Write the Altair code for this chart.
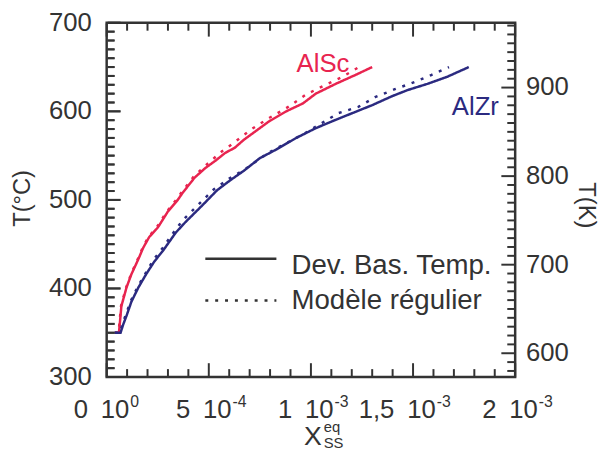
import altair as alt
import pandas as pd

# ---------------- data ----------------
sc_solid_x = [4.0e-5, 6.0e-5, 6.5e-5, 7.2e-5, 9.7e-5, 1.21e-4, 1.55e-4, 1.79e-4, 2.08e-4, 2.51e-4,
              3.00e-4, 3.48e-4, 3.72e-4, 4.30e-4, 4.83e-4, 5.31e-4, 5.80e-4, 6.28e-4, 6.72e-4, 7.20e-4,
              7.97e-4, 8.79e-4, 9.61e-4, 1.024e-3, 1.121e-3, 1.217e-3, 1.30e-3]
sc_solid_t = [350, 350, 362, 380, 401, 416, 433, 446, 458, 469,
              487, 500, 508, 525, 536, 544, 553, 559, 568, 576,
              589, 600, 609, 620, 631, 641, 650]

sc_dot_x = [4.0e-5, 5.8e-5, 6.3e-5, 7.0e-5, 9.5e-5, 1.19e-4, 1.52e-4, 1.76e-4, 2.04e-4, 2.45e-4,
            2.95e-4, 3.40e-4, 3.65e-4, 4.25e-4, 4.75e-4, 5.20e-4, 5.65e-4, 6.14e-4, 7.10e-4, 7.92e-4,
            8.89e-4, 9.76e-4, 1.072e-3, 1.155e-3, 1.235e-3]
sc_dot_t = [350, 350, 362, 380, 401, 416, 433, 446, 458, 469,
            487, 500, 508, 526, 537, 546, 555, 563, 580, 592,
            605, 619, 630, 639, 650]

zr_solid_x = [3.9e-5, 6.8e-5, 8.2e-5, 9.7e-5, 1.21e-4, 1.55e-4, 1.93e-4, 2.32e-4, 2.80e-4, 3.38e-4,
              3.86e-4, 4.69e-4, 5.41e-4, 6.04e-4, 6.72e-4, 7.49e-4, 8.31e-4, 9.28e-4, 1.024e-3, 1.106e-3,
              1.203e-3, 1.30e-3, 1.396e-3, 1.473e-3, 1.57e-3, 1.667e-3, 1.773e-3]
zr_solid_t = [350, 350, 360, 369, 385, 401, 416, 430, 444, 463,
              475, 494, 511, 522, 533, 547, 557, 570, 581, 589,
              598, 607, 617, 624, 631, 639, 650]

zr_dot_x = [3.9e-5, 6.5e-5, 8.0e-5, 9.5e-5, 1.18e-4, 1.52e-4, 1.90e-4, 2.28e-4, 2.75e-4, 3.30e-4,
            3.72e-4, 4.55e-4, 5.25e-4, 6.00e-4, 6.86e-4, 7.83e-4, 8.70e-4, 9.61e-4, 1.048e-3, 1.135e-3,
            1.232e-3, 1.314e-3, 1.411e-3, 1.507e-3, 1.589e-3, 1.676e-3]
zr_dot_t = [350, 350, 362, 371, 386, 402, 417, 432, 446, 464,
            477, 496, 512, 524, 536, 552, 563, 574, 586, 598,
            605, 616, 625, 633, 641, 650]

x_major = [0, 5e-4, 1e-3, 1.5e-3, 2e-3]
x_major_base = ["0\u200210", "5\u200210", "1\u200210", "1,5\u200210", "2\u200210"]
x_major_exp = ["0", "-4", "-3", "-3", "-3"]
x_minor = [i * 1e-4 for i in range(21) if i % 5 != 0]

y_major = [300, 400, 500, 600, 700]
y_minor = [v for v in range(310, 700, 10) if v % 100 != 0]

k_major = [600, 700, 800, 900]
k_minor = [v for v in range(580, 980, 10) if v % 100 != 0]

RED = "#e8244f"
NAVY = "#2b2a80"
INK = "#333333"
FONT = "Liberation Sans"
W, H = 414, 359
MAJ, MIN = 14, 8

rows = []
for name, style, xs, ts in [("AlSc", "solid", sc_solid_x, sc_solid_t),
                            ("AlSc", "dotted", sc_dot_x, sc_dot_t),
                            ("AlZr", "solid", zr_solid_x, zr_solid_t),
                            ("AlZr", "dotted", zr_dot_x, zr_dot_t)]:
    for i, (xv, tv) in enumerate(zip(xs, ts)):
        rows.append({"X": xv, "T": tv, "series": name, "style": style, "i": i})
df = pd.DataFrame(rows)

xscale = alt.Scale(domain=[0, 0.002], nice=False, zero=False)
yscale = alt.Scale(domain=[300, 700], nice=False, zero=False)

lines = alt.Chart(df).mark_line(strokeWidth=2.5).encode(
    x=alt.X("X:Q", scale=xscale, axis=None),
    y=alt.Y("T:Q", scale=yscale, axis=None),
    color=alt.Color("series:N", scale=alt.Scale(domain=["AlSc", "AlZr"], range=[RED, NAVY]), legend=None),
    strokeDash=alt.StrokeDash("style:N", scale=alt.Scale(domain=["solid", "dotted"], range=[[1, 0], [3, 7]]),
                              legend=None),
    order=alt.Order("i:Q"),
)

# --- inward ticks on all four sides of the frame ---
def xticks(vals, length, top):
    d = pd.DataFrame({"X": vals})
    if top:
        enc = dict(y=alt.value(0.5), y2=alt.value(length))
    else:
        enc = dict(y=alt.value(H), y2=alt.value(H - length))
    return alt.Chart(d).mark_rule(color=INK, strokeWidth=2).encode(
        x=alt.X("X:Q", scale=xscale, axis=None), **enc)

k_major_c = [k - 273.15 for k in k_major]
k_minor_c = [k - 273.15 for k in k_minor]

yt_rows = []
for v in y_major:
    yt_rows.append({"Tv": float(v), "p1": 1.0, "p2": float(MAJ)})
for v in y_minor:
    yt_rows.append({"Tv": float(v), "p1": 1.0, "p2": float(MIN)})
for v in k_major_c:
    yt_rows.append({"Tv": v, "p1": float(W), "p2": float(W - MAJ)})
for v in k_minor_c:
    yt_rows.append({"Tv": v, "p1": float(W), "p2": float(W - MIN)})
yt_df = pd.DataFrame(yt_rows)
yticks = alt.Chart(yt_df).mark_rule(color=INK, strokeWidth=2).encode(
    y=alt.Y("Tv:Q", scale=yscale, axis=None),
    x=alt.X("p1:Q", scale=None, axis=None), x2="p2:Q")

# left ticks also drawn as thin rectangles (a second, independent way)
lt_rows = []
for v in y_major:
    lt_rows.append({"Tl": float(v), "w": float(MAJ)})
for v in y_minor:
    lt_rows.append({"Tl": float(v), "w": float(MIN)})
lt_df = pd.DataFrame(lt_rows)
left_rects = alt.Chart(lt_df).transform_calculate(
    lo="datum.Tl - 1.1", hi="datum.Tl + 1.1", x0="1", x1="datum.w"
).mark_rect(color=INK).encode(
    y=alt.Y("lo:Q", scale=yscale, axis=None), y2="hi:Q",
    x=alt.X("x0:Q", scale=None, axis=None), x2="x1:Q")

ticks = [xticks(x_major, MAJ, False), xticks(x_minor, MIN, False),
         xticks(x_major, MAJ, True), xticks(x_minor, MIN, True), yticks, left_rects]

xlab_df = pd.DataFrame({"X": x_major, "base": x_major_base, "exp": x_major_exp})
xlab_base = alt.Chart(xlab_df).mark_text(align="right", baseline="alphabetic", dx=23,
                                         font=FONT, fontSize=26, color=INK).encode(
    x=alt.X("X:Q", scale=xscale, axis=None), y=alt.value(H + 42), text="base:N")
xlab_exp = alt.Chart(xlab_df).mark_text(align="left", baseline="alphabetic", dx=24,
                                        font=FONT, fontSize=16, color=INK).encode(
    x=alt.X("X:Q", scale=xscale, axis=None), y=alt.value(H + 30), text="exp:N")

ylab_df = pd.DataFrame({"T": y_major, "lab": [str(v) for v in y_major]})
ylab = alt.Chart(ylab_df).mark_text(align="right", baseline="middle", font=FONT,
                                    fontSize=26, color=INK).encode(
    x=alt.value(-15), y=alt.Y("T:Q", scale=yscale, axis=None), text="lab:N")

klab_df = pd.DataFrame({"Tc": k_major_c, "K": [str(k) for k in k_major]})
klab = alt.Chart(klab_df).mark_text(align="left", baseline="middle", font=FONT,
                                    fontSize=26, color=INK).encode(
    x=alt.value(W + 11), y=alt.Y("Tc:Q", scale=yscale, axis=None), text="K:N")

one = pd.DataFrame({"a": [0]})

def plabel(text, x, y, size, angle=0, align="left", baseline="alphabetic"):
    # label placed in the margins (pixel position)
    return alt.Chart(one).mark_text(text=text, font=FONT, fontSize=size, color=INK,
                                    angle=angle, align=align, baseline=baseline).encode(
        x=alt.value(x), y=alt.value(y))

def dlabel(text, xv, tv, size, color=INK):
    # label placed in data coordinates
    d = pd.DataFrame({"X": [xv], "T": [tv], "txt": [text]})
    return alt.Chart(d).mark_text(font=FONT, fontSize=size, color=color,
                                  align="left", baseline="alphabetic").encode(
        x=alt.X("X:Q", scale=xscale, axis=None),
        y=alt.Y("T:Q", scale=yscale, axis=None), text="txt:N")

texts = [
    plabel("T(°C)", -85, 178, 24, angle=270, align="center", baseline="middle"),
    plabel("T(K)", 486, 185, 24, angle=90, align="center", baseline="middle"),
    plabel("X", 200, 428, 27),
    plabel("eq", 220, 415, 15),
    plabel("SS", 220, 431, 15),
    dlabel("AlSc", 9.3e-4, 644, 26, RED),
    dlabel("AlZr", 1.69e-3, 596, 26, NAVY),
    dlabel("Dev. Bas. Temp.", 9.05e-4, 416, 28),
    dlabel("Modèle régulier", 9.05e-4, 377, 28),
]

leg_df = pd.DataFrame({"x1": [4.83e-4, 4.83e-4], "x2": [8.31e-4, 8.31e-4],
                       "T": [433.5, 386.5], "kind": ["solid", "dotted"]})
leg = alt.Chart(leg_df).mark_rule(color=INK, strokeWidth=2.5).encode(
    x=alt.X("x1:Q", scale=xscale, axis=None), x2="x2:Q",
    y=alt.Y("T:Q", scale=yscale, axis=None),
    strokeDash=alt.StrokeDash("kind:N", scale=alt.Scale(domain=["solid", "dotted"], range=[[1, 0], [3, 6]]),
                              legend=None),
)

chart = alt.layer(lines, xlab_base, xlab_exp, ylab, klab, *texts, leg, *ticks).properties(
    width=W, height=H,
    autosize=alt.AutoSizeParams(type="none"),
    padding={"left": 100, "top": 12, "right": 88, "bottom": 73},
).configure_view(stroke=INK, strokeWidth=2.5)

chart.save("out.html", embed_options={"renderer": "svg", "actions": False})
